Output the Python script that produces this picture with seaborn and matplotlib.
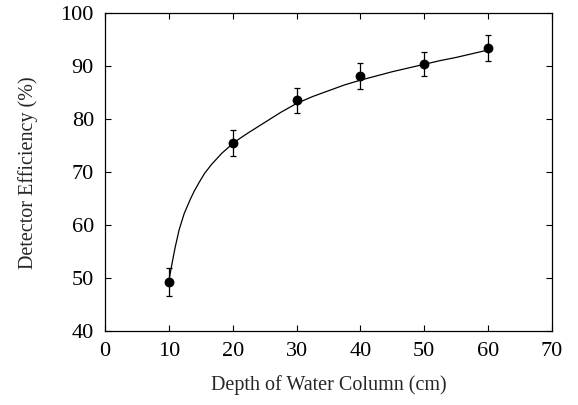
import matplotlib
matplotlib.use("Agg")
import matplotlib.pyplot as plt
import seaborn as sns
import pandas as pd

# Measured points
depth = [10, 20, 30, 40, 50, 60]
efficiency = [49.3, 75.5, 83.6, 88.2, 90.4, 93.5]
eff_err = [2.6, 2.5, 2.4, 2.4, 2.3, 2.4]

# Fitted curve
curve_x = [10.0, 10.5, 11.0, 11.6, 12.4, 13.4, 14.0, 14.7, 15.6, 16.7, 18.3,
           20.0, 21.0, 22.5, 25.0, 27.5, 30.0, 32.5, 35.0, 37.5, 40.0, 42.5,
           45.0, 47.5, 50.0, 52.5, 55.0, 57.5, 60.0]
curve_y = [49.5, 52.8, 55.9, 59.1, 62.2, 65.0, 66.5, 68.0, 69.8, 71.5, 73.6,
           75.4, 76.3, 77.5, 79.4, 81.3, 83.0, 84.3, 85.4, 86.5, 87.4, 88.2,
           89.0, 89.7, 90.4, 91.1, 91.7, 92.4, 93.1]

x_ticks = [0, 10, 20, 30, 40, 50, 60, 70]
y_ticks = [40, 50, 60, 70, 80, 90, 100]

sns.set_theme(style="ticks")
plt.rcParams["font.family"] = ["Liberation Serif", "DejaVu Serif"]

fig = plt.figure(figsize=(5.78, 4.05), dpi=100)
ax = fig.add_axes([0.1817, 0.1827, 0.955 - 0.1817, 0.9667 - 0.1827])

pts = pd.DataFrame({"x": depth, "y": efficiency})
fit = pd.DataFrame({"x": curve_x, "y": curve_y})

sns.lineplot(data=fit, x="x", y="y", ax=ax, color="black", linewidth=0.9,
             sort=True, estimator=None)
ax.errorbar(depth, efficiency, yerr=eff_err, fmt="none", ecolor="black",
            elinewidth=0.9, capsize=2.5, capthick=0.9)
sns.scatterplot(data=pts, x="x", y="y", ax=ax, color="black", s=50,
                edgecolor="black", linewidth=0, zorder=5)

ax.set_xlim(0, 70)
ax.set_ylim(40, 100)
ax.set_xticks(x_ticks)
ax.set_yticks(y_ticks)
ax.tick_params(direction="in", length=4, width=0.8, top=True, right=True,
               labelsize=16, colors="black", pad=8)
for s in ax.spines.values():
    s.set_linewidth(0.9)
    s.set_color("black")
ax.set_xlabel("Depth of Water Column (cm)", fontsize=14.5, labelpad=10)
ax.set_ylabel("Detector Efficiency (%)", fontsize=14.5, labelpad=16)

fig.savefig("out.png", dpi=100)
